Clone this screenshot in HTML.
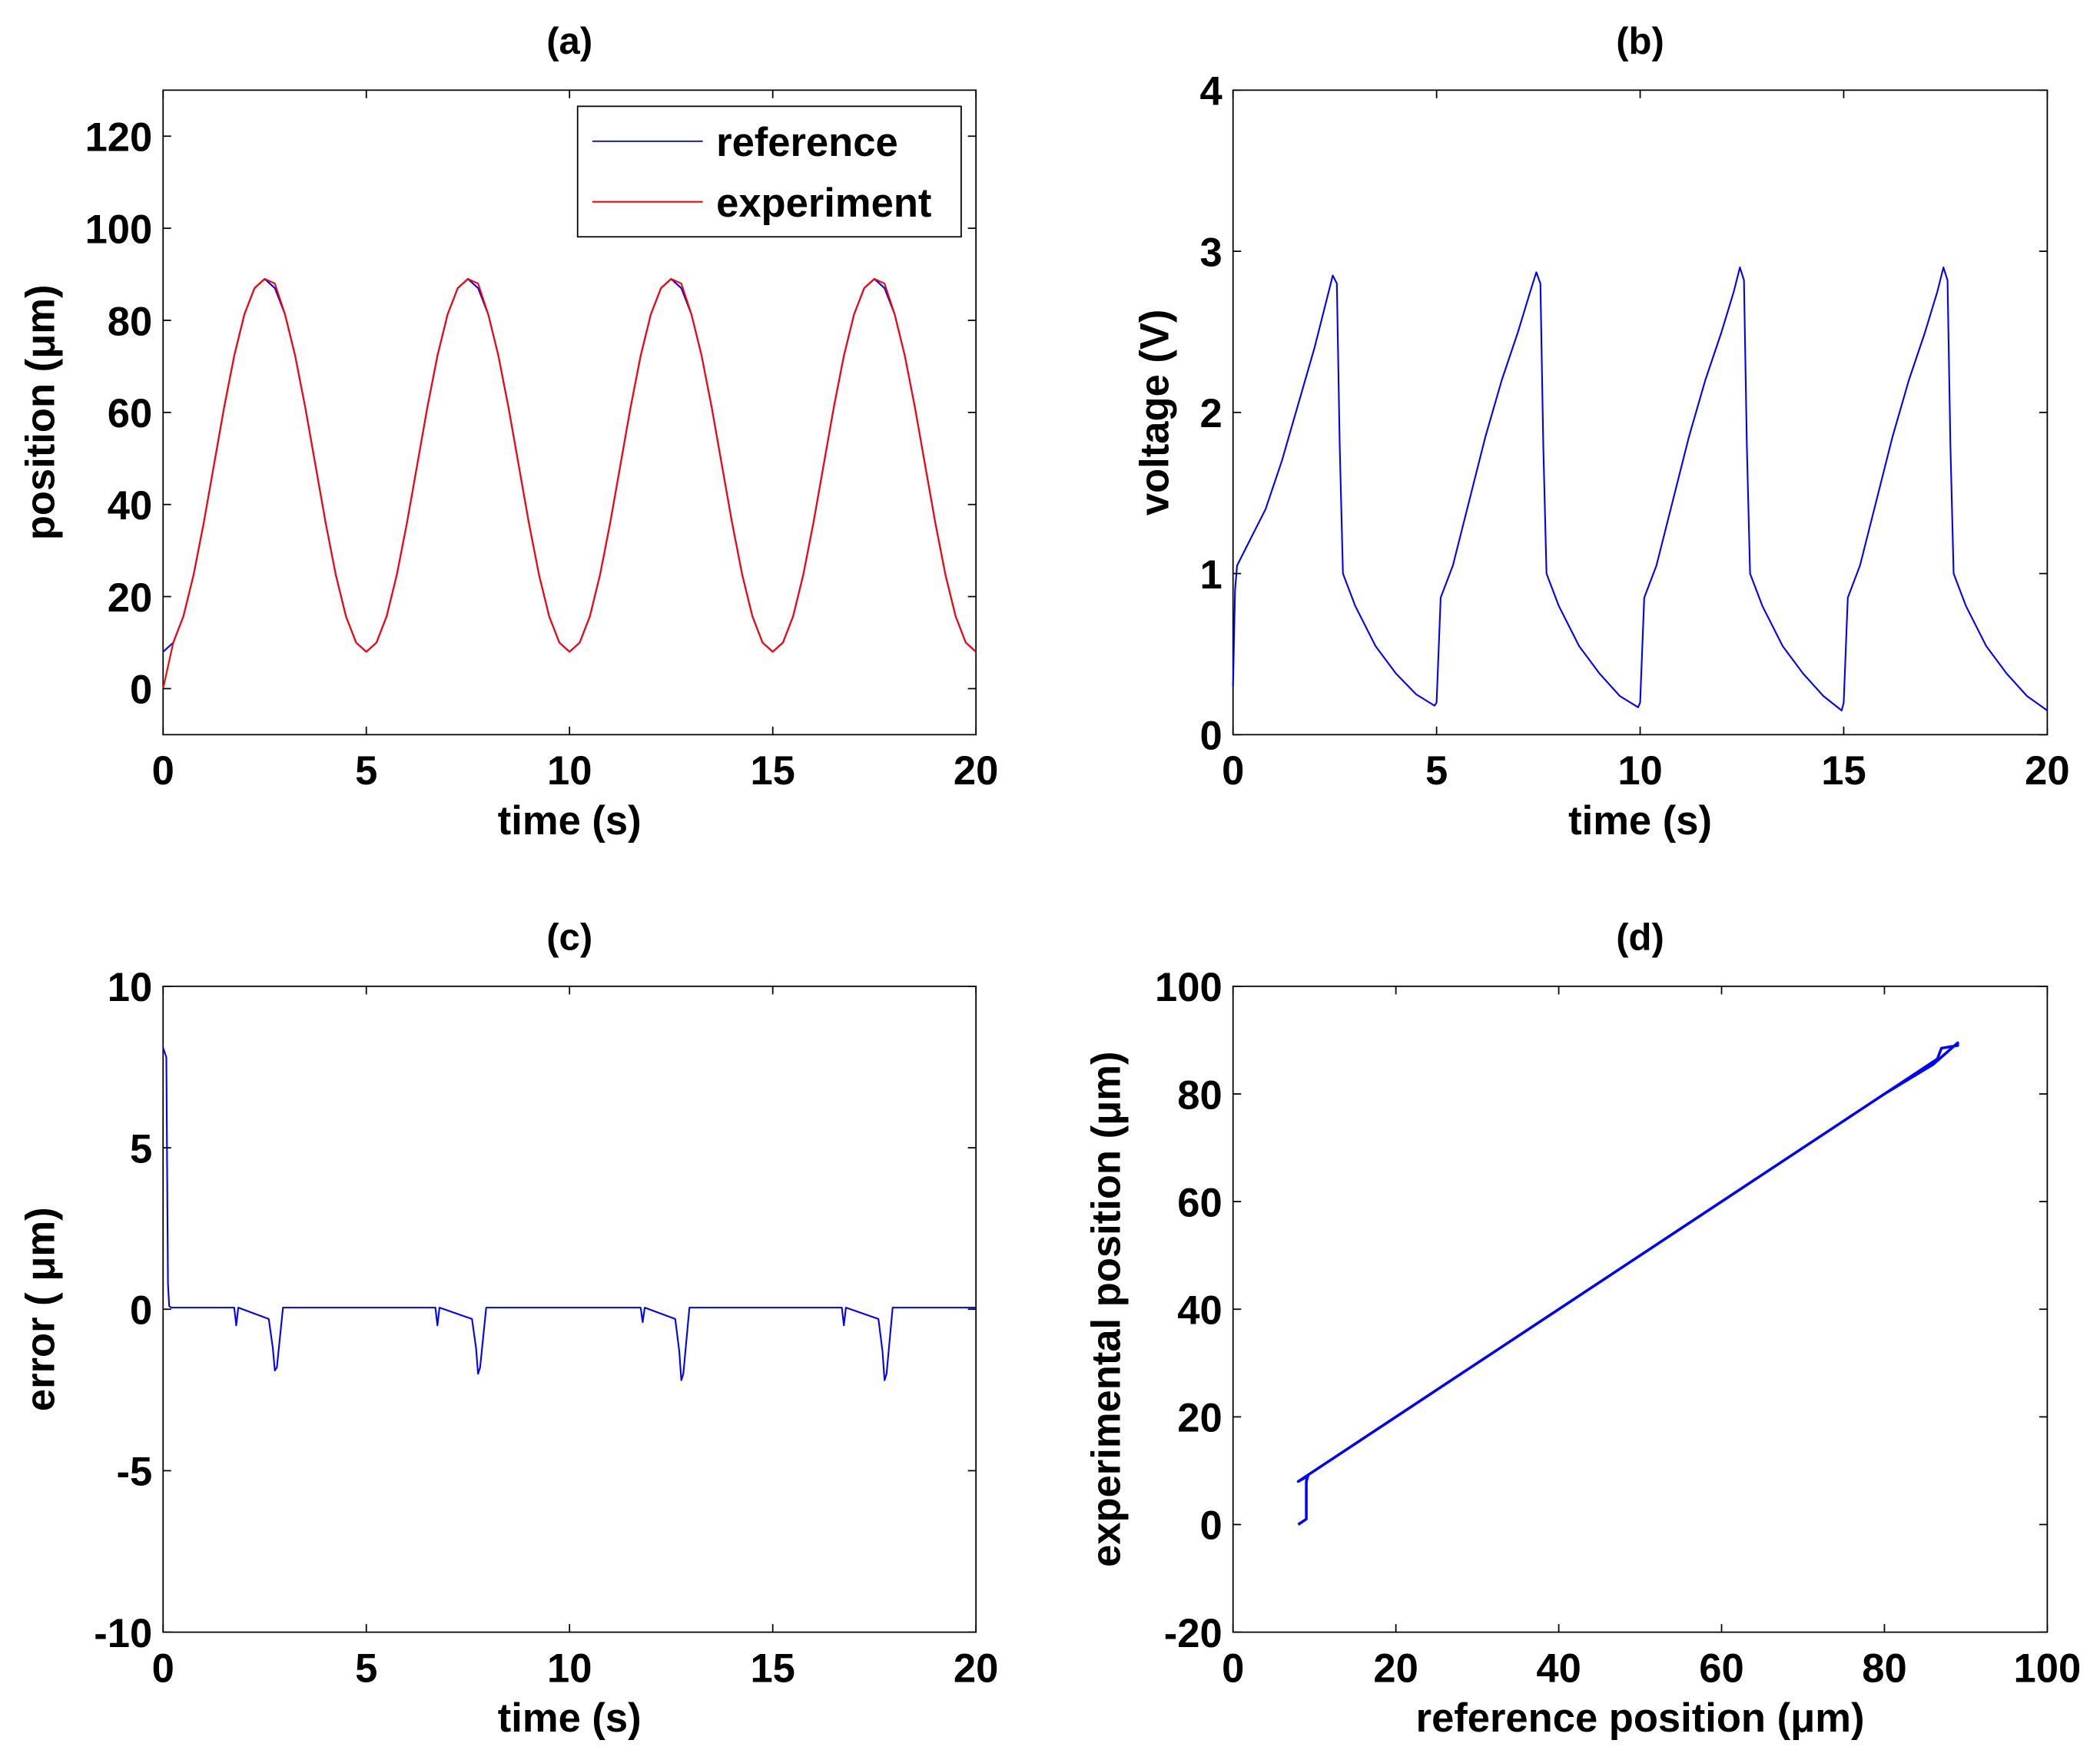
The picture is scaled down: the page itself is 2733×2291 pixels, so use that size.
<!DOCTYPE html>
<html><head><meta charset="utf-8"><style>
html,body{margin:0;padding:0;background:#fff;}
svg{display:block;}
text{font-family:"Liberation Sans",sans-serif;font-weight:bold;fill:#000;}
</style></head><body>
<svg id="fig" width="2733" height="2291" viewBox="0 0 1560 1308" xmlns="http://www.w3.org/2000/svg"></svg>
<script>
// ---- data ----
// (a) position, sampled every 0.25 s over 0..20 s (81 samples)
const posTimes = [];
for (let i = 0; i <= 80; i++) posTimes.push(i * 0.25);
const refPos = [8,10,15.7,24.7,36,48.5,61,72.3,81.3,87,89,87,81.3,72.3,61,48.5,36,24.7,15.7,10,
 8,10,15.7,24.7,36,48.5,61,72.3,81.3,87,89,87,81.3,72.3,61,48.5,36,24.7,15.7,10,
 8,10,15.7,24.7,36,48.5,61,72.3,81.3,87,89,87,81.3,72.3,61,48.5,36,24.7,15.7,10,
 8,10,15.7,24.7,36,48.5,61,72.3,81.3,87,89,87,81.3,72.3,61,48.5,36,24.7,15.7,10,8];
const expPos = [0,10,15.7,24.7,36,48.5,61,72.3,81.3,87,89,88,81.3,72.3,61,48.5,36,24.7,15.7,10,
 8,10,15.7,24.7,36,48.5,61,72.3,81.3,87,89,88,81.3,72.3,61,48.5,36,24.7,15.7,10,
 8,10,15.7,24.7,36,48.5,61,72.3,81.3,87,89,88,81.3,72.3,61,48.5,36,24.7,15.7,10,
 8,10,15.7,24.7,36,48.5,61,72.3,81.3,87,89,88,81.3,72.3,61,48.5,36,24.7,15.7,10,8];
// (b) voltage
const voltTimes = [0,0.05,0.1,0.4,0.8,1.2,1.6,2.0,2.3,2.45,2.55,2.62,2.7,3.0,3.5,4.0,4.5,4.95,
 5.0,5.1,5.4,5.8,6.2,6.6,7.0,7.3,7.45,7.55,7.62,7.7,8.0,8.5,9.0,9.5,9.95,
 10.0,10.1,10.4,10.8,11.2,11.6,12.0,12.3,12.45,12.55,12.62,12.7,13.0,13.5,14.0,14.5,14.95,
 15.0,15.1,15.4,15.8,16.2,16.6,17.0,17.3,17.45,17.55,17.62,17.7,18.0,18.5,19.0,19.5,20.0];
const voltVals = [0.3,0.9,1.05,1.2,1.4,1.7,2.05,2.4,2.7,2.85,2.8,1.8,1.0,0.8,0.55,0.38,0.25,0.18,
 0.2,0.85,1.05,1.45,1.85,2.2,2.5,2.75,2.87,2.8,1.8,1.0,0.8,0.55,0.38,0.24,0.17,
 0.2,0.85,1.05,1.45,1.85,2.2,2.5,2.75,2.9,2.82,1.8,1.0,0.8,0.55,0.38,0.24,0.15,
 0.2,0.85,1.05,1.45,1.85,2.2,2.5,2.75,2.9,2.82,1.8,1.0,0.8,0.55,0.38,0.24,0.15];
// (c) error
const errTimes = [0,0.08,0.12,0.15,0.2,1.75,1.8,1.85,2.6,2.7,2.75,2.8,2.95,6.7,6.75,6.8,7.6,7.7,7.75,7.8,7.95,11.75,11.8,11.85,12.6,12.7,12.75,12.8,12.95,16.7,16.75,16.8,17.6,17.7,17.75,17.8,17.95,20];
const errVals  = [8.1,7.8,0.8,0.1,0.05,0.05,-0.5,0.05,-0.3,-1.2,-1.9,-1.8,0.05,0.05,-0.5,0.05,-0.3,-1.2,-2.0,-1.8,0.05,0.05,-0.4,0.05,-0.3,-1.3,-2.2,-2.0,0.05,0.05,-0.5,0.05,-0.3,-1.3,-2.2,-2.0,0.05,0.05];
// (d) experimental vs reference
const dRef = [8,9,9,9.2,8,20,40,60,74,76,80,85,86.5,87,89,89,86,80,60,40,20,9];
const dExp = [0,1,8,9,8,20,40,60,74,76,80,85,86.5,88.5,89,89.5,85.5,80,60,40,20,9];
const tickT = [0,5,10,15,20];
const tickPosA = [0,20,40,60,80,100,120];
const tickVoltB = [0,1,2,3,4];
const tickErrC = [-10,-5,0,5,10];
const tickXD = [0,20,40,60,80,100];
const tickYD = [-20,0,20,40,60,80,100];

const NS = "http://www.w3.org/2000/svg";
const svg = document.getElementById('fig');
function mk(tag, attrs, parent){ const e=document.createElementNS(NS,tag); for(const k in attrs) e.setAttribute(k,attrs[k]); (parent||svg).appendChild(e); return e; }
function txt(s, x, y, size, anchor, rot, parent){ const t=mk('text',{x:x,y:y,'font-size':size,'text-anchor':anchor||'middle'},parent); if(rot) t.setAttribute('transform','rotate(-90 '+x+' '+y+')'); t.textContent=s; return t; }

function panel(id, L, R, T, B, xmin, xmax, ymin, ymax){
  const g = mk('g',{});
  
  
  const sx = v => L + (v - xmin) / (xmax - xmin) * (R - L);
  const sy = v => B - (v - ymin) / (ymax - ymin) * (B - T);
  const box = mk('rect',{x:L,y:T,width:R-L,height:B-T,fill:'#fff',stroke:'#000','stroke-width':1},g);
  
  
  return {g, sx, sy, L, R, T, B};
}
function xticks(p, ticks, id){
  ticks.forEach(v=>{
    const x=p.sx(v);
    mk('line',{x1:x,y1:p.B,x2:x,y2:p.B-6,stroke:'#000','stroke-width':1},p.g);
    mk('line',{x1:x,y1:p.T,x2:x,y2:p.T+6,stroke:'#000','stroke-width':1},p.g);
    const t=txt(String(v), x, p.B+37, 30, 'middle', false, p.g);
    
    
  });
}
function yticks(p, ticks, id){
  ticks.forEach(v=>{
    const y=p.sy(v);
    mk('line',{x1:p.L,y1:y,x2:p.L+6,y2:y,stroke:'#000','stroke-width':1},p.g);
    mk('line',{x1:p.R,y1:y,x2:p.R-6,y2:y,stroke:'#000','stroke-width':1},p.g);
    const t=txt(String(v), p.L-8, y+11, 30, 'end', false, p.g);
    
    
  });
}
function line(p, xs, ys, color, w, name){
  const pts = xs.map((x,i)=>p.sx(x).toFixed(2)+','+p.sy(ys[i]).toFixed(2)).join(' ');
  const pl = mk('polyline',{points:pts,fill:'none',stroke:color,'stroke-width':w,'stroke-linejoin':'round'},p.g);
  
  
}
function labels(p, title, xl, yl, yx, id){
  const cx=(p.L+p.R)/2;
  const t1=txt(title, cx, p.T-27, 28, 'middle', false, p.g);
  
  
  const t2=txt(xl, cx, p.B+74, 30, 'middle', false, p.g);
  
  
  const t3=txt(yl, yx, (p.T+p.B)/2, 30, 'middle', true, p.g);
  
  
}

// panel a
const pa = panel('a',121,725,67,546,0,20,-10,130);
line(pa, posTimes, refPos, '#0000ff', 1.2, 'reference-line');
line(pa, posTimes, expPos, '#ff0000', 1.2, 'experiment-line');
xticks(pa, tickT, 'a'); yticks(pa, tickPosA, 'a');
labels(pa, '(a)', 'time (s)', 'position (\u03bcm)', 40, 'a');
const lg = mk('g',{},pa.g);


mk('rect',{x:429,y:79,width:285,height:97,fill:'#fff',stroke:'#000','stroke-width':1},lg);
mk('line',{x1:440,y1:105,x2:522,y2:105,stroke:'#0000ff','stroke-width':1},lg);
mk('line',{x1:440,y1:150,x2:522,y2:150,stroke:'#ff0000','stroke-width':1.2},lg);
const le1=txt('reference',532,116,30,'start',false,lg);


const le2=txt('experiment',532,161,30,'start',false,lg);



// panel b
const pb = panel('b',916,1521,67,546,0,20,0,4);
line(pb, voltTimes, voltVals, '#0000ff', 1.2, 'voltage-line');
xticks(pb, tickT, 'b'); yticks(pb, tickVoltB, 'b');
labels(pb, '(b)', 'time (s)', 'voltage (V)', 868, 'b');

// panel c
const pc = panel('c',121,725,733,1213,0,20,-10,10);
line(pc, errTimes, errVals, '#0000ff', 1.2, 'error-line');
xticks(pc, tickT, 'c'); yticks(pc, tickErrC, 'c');
labels(pc, '(c)', 'time (s)', 'error ( \u03bcm)', 40, 'c');

// panel d
const pd = panel('d',916,1521,733,1213,0,100,-20,100);
line(pd, dRef, dExp, '#0000ff', 2, 'hysteresis-line');
xticks(pd, tickXD, 'd'); yticks(pd, tickYD, 'd');
labels(pd, '(d)', 'reference position (\u03bcm)', 'experimental position (\u03bcm)', 832, 'd');
</script>
</body></html>
